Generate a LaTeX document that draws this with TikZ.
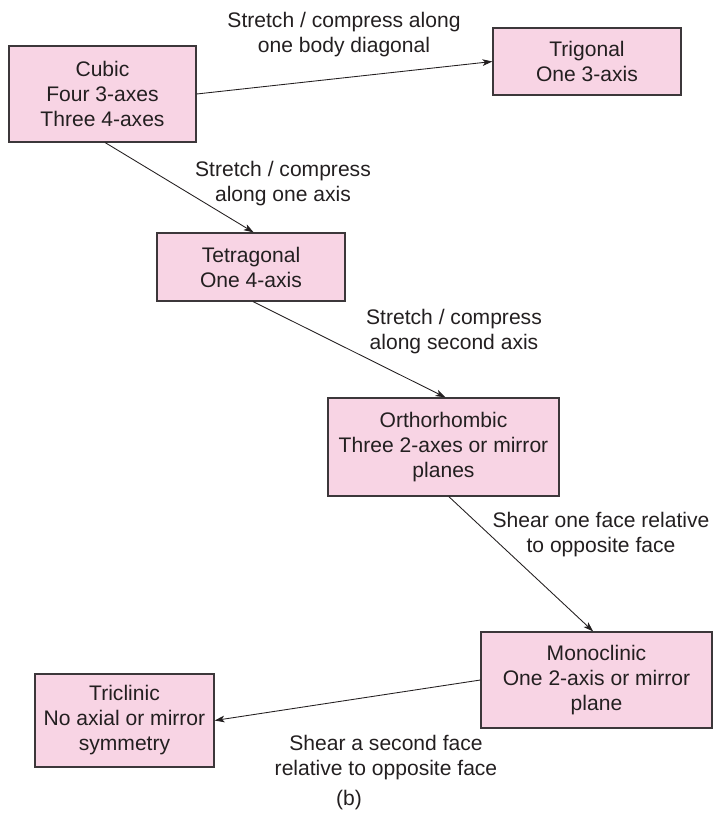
\documentclass[tikz,border=0pt]{standalone}
\usepackage{fontspec}
\setmainfont{Liberation Sans}
\usepackage{tikz}
\usepackage{xcolor}
\usetikzlibrary{arrows.meta}

\definecolor{boxpink}{RGB}{248,212,228}
\definecolor{boxline}{RGB}{60,55,58}
\definecolor{ink}{RGB}{35,31,32}

\begin{document}
\begin{tikzpicture}[
    x=0.75pt, y=-0.75pt,
    every node/.style={text=ink, font=\fontsize{15.8}{18.75}\selectfont},
    sys/.style={rectangle, draw=boxline, fill=boxpink, line width=0.9pt, inner sep=0pt, align=center},
    note/.style={align=center},
    arrow/.style={-{Stealth[length=7.5pt, width=5pt, inset=2pt]}, draw=ink, line width=0.65pt},
]
\useasboundingbox (0,0) rectangle (713,819);

% crystal systems
\node[sys, minimum width=140.25pt, minimum height=72pt]   (cubic) at (102.5, 94)  {Cubic\\Four 3-axes\\Three 4-axes};
\node[sys, minimum width=141pt, minimum height=50.25pt]   (trig)  at (587, 61.5)  {Trigonal\\One 3-axis};
\node[sys, minimum width=141pt, minimum height=51pt]      (tetra) at (251, 267)   {Tetragonal\\One 4-axis};
\node[sys, minimum width=173.25pt, minimum height=73.5pt] (ortho) at (443.5, 447) {Orthorhombic\\Three 2-axes or mirror\\planes};
\node[sys, minimum width=173.25pt, minimum height=72pt]   (mono)  at (596.5, 680) {Monoclinic\\One 2-axis or mirror\\plane};
\node[sys, minimum width=134.25pt, minimum height=69.75pt] (tri)  at (124.5, 720.5) {Triclinic\\No axial or mirror\\symmetry};

% distortions
\draw[arrow] (cubic.east) -- (trig.west);
\draw[arrow] ([xshift=2pt]cubic.south) -- ([xshift=2pt]tetra.north);
\draw[arrow] ([xshift=1.5pt]tetra.south) -- ([xshift=1.5pt]ortho.north);
\draw[arrow] ([xshift=4pt]ortho.south) -- ([xshift=-2.5pt]mono.north);
\draw[arrow] (mono.west) -- (tri.east);

% labels on the arrows
\node[note] (l1) at (344, 35)  {Stretch / compress along\\one body diagonal};
\node[note] (l2) at (283, 184) {Stretch / compress\\along one axis};
\node[note] (l3) at (454, 332) {Stretch / compress\\along second axis};
\node[note] (l4) at (601, 535) {Shear one face relative\\to opposite face};
\node[note] (l5) at (386, 758) {Shear a second face\\relative to opposite face};

\node (cap) at (349, 800) {(b)};

\end{tikzpicture}
\end{document}
